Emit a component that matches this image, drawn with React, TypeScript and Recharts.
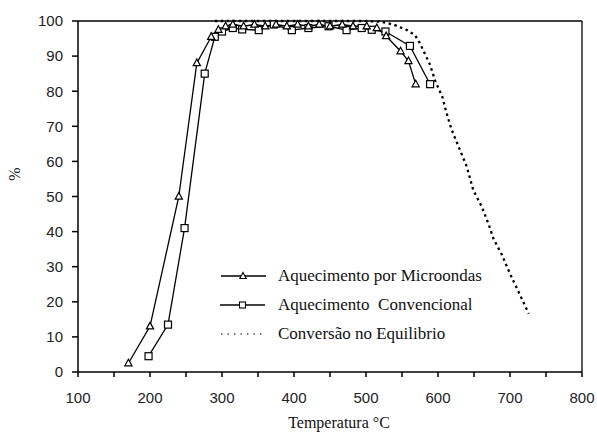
import { LineChart, Line, XAxis, YAxis, ReferenceLine, Label } from 'recharts';

// temperature (°C) and conversion (%)
const microTemps = [170, 200, 240, 265, 285, 295, 305, 315, 330, 345, 360, 375, 390, 405, 420, 435, 450, 467, 482, 501, 515, 528, 548, 559, 569];
const microValues = [2.5, 13, 50, 88, 95.5, 97.5, 98.5, 99, 98.5, 99, 98.5, 99, 98.5, 99, 98.5, 99, 98.5, 99, 98.5, 98.5, 98, 95.7, 91.4, 88.6, 82];

const convTemps = [198, 225, 248, 276, 290, 300, 315, 328, 351, 372, 397, 420, 448, 473, 494, 508, 527, 561, 589];
const convValues = [4.5, 13.5, 41, 85, 95.5, 97, 98, 97.6, 97.4, 99, 97.4, 98, 98.5, 97.4, 98, 97.5, 97, 92.9, 82];

const eqTemps = [290, 350, 400, 450, 500, 520, 538, 557, 568, 575, 589, 596, 606, 612, 619, 629, 640, 649, 661, 670, 677, 689, 700, 712, 726];
const eqValues = [100, 100, 100, 100, 100, 99.8, 99, 97.4, 96, 93.6, 87.5, 83, 78.4, 73.7, 69, 64, 58.5, 51.8, 47, 42.3, 38, 33.3, 28, 22.8, 16.6];

const xTicks = [100, 150, 200, 250, 300, 350, 400, 450, 500, 550, 600, 650, 700, 750, 800];
const yTicks = [0, 10, 20, 30, 40, 50, 60, 70, 80, 90, 100];

const seriesNames = ['Aquecimento por Microondas', 'Aquecimento  Convencional', 'Conversão no Equilibrio'];

const toPoints = (temps: number[], values: number[]) => temps.map((t, i) => ({ t, v: values[i] }));
const microData = toPoints(microTemps, microValues);
const convData = toPoints(convTemps, convValues);
const eqData = toPoints(eqTemps, eqValues);

const sans = '"Liberation Sans", Arial, sans-serif';
const serif = '"Liberation Serif", "Times New Roman", serif';

const TriangleDot = (p: any) => {
  const { cx, cy, index } = p;
  if (cx == null || cy == null) return <g key={index} />;
  return (
    <polygon
      key={index}
      points={`${cx},${cy - 4} ${cx - 3.6},${cy + 2.6} ${cx + 3.6},${cy + 2.6}`}
      fill="#fff"
      stroke="#000"
      strokeWidth={1.2}
    />
  );
};

const SquareDot = (p: any) => {
  const { cx, cy, index } = p;
  if (cx == null || cy == null) return <g key={index} />;
  return <rect key={index} x={cx - 3.5} y={cy - 3.5} width={7} height={7} fill="#fff" stroke="#000" strokeWidth={1.2} />;
};

function LegendBox() {
  const row = { display: 'flex', alignItems: 'center', height: 29 } as const;
  const text = { fontFamily: serif, fontSize: 17, color: '#111', marginLeft: 12, whiteSpace: 'pre' } as const;
  return (
    <div style={{ position: 'absolute', left: 220, top: 261 }}>
      <div style={row}>
        <svg width={46} height={12}>
          <line x1={1} y1={6} x2={46} y2={6} stroke="#000" strokeWidth={1.3} />
          <polygon points="23,2.5 19.8,8.5 26.2,8.5" fill="#fff" stroke="#000" strokeWidth={1.1} />
        </svg>
        <span style={text}>{seriesNames[0]}</span>
      </div>
      <div style={row}>
        <svg width={46} height={12}>
          <line x1={0} y1={6} x2={45} y2={6} stroke="#000" strokeWidth={1.3} />
          <rect x={19.5} y={3} width={6} height={6} fill="#fff" stroke="#000" strokeWidth={1.1} />
        </svg>
        <span style={text}>{seriesNames[1]}</span>
      </div>
      <div style={row}>
        <svg width={46} height={12}>
          <line x1={1} y1={6} x2={45} y2={6} stroke="#000" strokeWidth={1} strokeDasharray="1.5 5" />
        </svg>
        <span style={text}>{seriesNames[2]}</span>
      </div>
    </div>
  );
}

export default function App() {
  return (
    <div style={{ position: 'absolute', left: 0, top: 0, width: 597, height: 433, background: '#fff' }}>
      <LineChart width={597} height={433} margin={{ top: 21, right: 15, bottom: 0, left: 0 }}>
        <XAxis
          type="number"
          dataKey="t"
          domain={[100, 800]}
          ticks={xTicks}
          interval={0}
          tickFormatter={(v: number) => (v % 100 === 0 ? String(v) : '')}
          height={61}
          tickSize={5}
          tickMargin={15}
          stroke="#000"
          strokeWidth={1.5}
          tick={{ fill: '#222', fontSize: 15, fontFamily: sans }}
          allowDuplicatedCategory={false}
        >
          <Label value="Temperatura °C" position="insideBottom" offset={5} dx={9} style={{ fontFamily: serif, fontSize: 16, fill: '#111' }} />
        </XAxis>
        <YAxis
          type="number"
          domain={[0, 100]}
          ticks={yTicks}
          interval={0}
          width={78}
          tickSize={6}
          tickMargin={9}
          stroke="#000"
          strokeWidth={1.5}
          tick={{ fill: '#222', fontSize: 15, fontFamily: sans }}
        >
          <Label
            content={() => (
              <text x={20} y={174} transform="rotate(-90 20 174)" textAnchor="middle" fontFamily={serif} fontSize={16} fill="#222">
                %
              </text>
            )}
          />
        </YAxis>
        <ReferenceLine y={100} stroke="#000" strokeWidth={1.3} />
        <ReferenceLine x={800} stroke="#000" strokeWidth={1.3} />
        <Line
          data={eqData}
          dataKey="v"
          name={seriesNames[2]}
          type="linear"
          stroke="#000"
          strokeWidth={2.3}
          strokeDasharray="2.5 3.5"
          dot={false}
          isAnimationActive={false}
        />
        <Line
          data={convData}
          dataKey="v"
          name={seriesNames[1]}
          type="linear"
          stroke="#000"
          strokeWidth={1.3}
          dot={SquareDot}
          isAnimationActive={false}
        />
        <Line
          data={microData}
          dataKey="v"
          name={seriesNames[0]}
          type="linear"
          stroke="#000"
          strokeWidth={1.3}
          dot={TriangleDot}
          isAnimationActive={false}
        />
      </LineChart>
      <LegendBox />
    </div>
  );
}
